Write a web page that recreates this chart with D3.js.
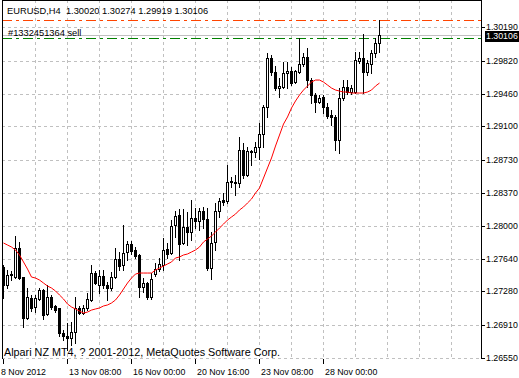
<!DOCTYPE html>
<html>
<head>
<meta charset="utf-8">
<script src="https://cdn.jsdelivr.net/npm/d3@7"></script>
<style>
body { margin: 0; background: #fff; }
svg { display: block; }
text { font-family: "Liberation Sans", Arial, sans-serif; fill: #000; }
</style>
</head>
<body>
<svg id="chart"></svg>
<script>
// EURUSD H4 bars, oldest first
var opens = [1.27549,1.27351,1.27461,1.27439,1.27759,1.27439,1.26987,1.27208,1.27109,1.27197,
1.27296,1.27031,1.27219,1.27120,1.27098,1.26822,1.26789,1.26767,1.26833,1.27098,
1.27042,1.27098,1.27186,1.27483,1.27351,1.27450,1.27351,1.27318,1.27439,1.27638,
1.27571,1.27715,1.27803,1.27737,1.27682,1.27329,1.27373,1.27219,1.27472,1.27527,
1.27571,1.27748,1.27704,1.28012,1.28122,1.27814,1.27990,1.27935,1.28089,1.28056,
1.28167,1.28078,1.27538,1.27825,1.28167,1.28288,1.28277,1.28486,1.28475,1.28475,
1.28839,1.28563,1.28828,1.28817,1.28872,1.29015,1.29313,1.29853,1.29698,1.29522,
1.29533,1.29687,1.29710,1.29588,1.29698,1.29787,1.29864,1.29610,1.29445,1.29368,
1.29423,1.29313,1.29225,1.29203,1.28949,1.29412,1.29533,1.29478,1.29478,1.29820,
1.29853,1.29698,1.29787,1.29908,1.30020];
var highs = [1.27571,1.27516,1.27505,1.27891,1.27825,1.27439,1.27318,1.27241,1.27241,1.27318,
1.27307,1.27351,1.27241,1.27131,1.27098,1.26855,1.26932,1.26943,1.27219,1.27120,
1.27131,1.27263,1.27571,1.27505,1.27516,1.27516,1.27384,1.27494,1.27759,1.27715,
1.28012,1.27836,1.27836,1.27770,1.27693,1.27428,1.27384,1.27483,1.27594,1.27649,
1.27869,1.27814,1.28067,1.28167,1.28189,1.28189,1.28156,1.28288,1.28200,1.28200,
1.28211,1.28200,1.27935,1.28255,1.28310,1.28365,1.28674,1.28541,1.28563,1.28982,
1.28916,1.28872,1.28839,1.28927,1.29136,1.29335,1.29908,1.29886,1.29765,1.29632,
1.29809,1.29809,1.29754,1.29721,1.30073,1.29908,1.29963,1.29632,1.29467,1.29445,
1.29445,1.29357,1.29280,1.29225,1.29522,1.29610,1.29610,1.29555,1.29919,1.29919,
1.30117,1.29831,1.29941,1.30073,1.30274];
var lows = [1.27208,1.27318,1.27406,1.27428,1.27417,1.26888,1.26976,1.27064,1.27053,1.27186,
1.26976,1.27020,1.27087,1.27053,1.26789,1.26745,1.26635,1.26690,1.26712,1.27031,
1.27031,1.27075,1.27175,1.27362,1.27263,1.27318,1.27186,1.27296,1.27428,1.27516,
1.27516,1.27627,1.27693,1.27649,1.27219,1.27274,1.27197,1.27197,1.27450,1.27505,
1.27516,1.27649,1.27693,1.27880,1.27627,1.27803,1.27792,1.27847,1.27979,1.27957,
1.27979,1.27516,1.27417,1.27737,1.28101,1.28233,1.28255,1.28431,1.28343,1.28431,
1.28530,1.28552,1.28674,1.28762,1.28740,1.28872,1.29203,1.29665,1.29500,1.29423,
1.29522,1.29522,1.29555,1.29577,1.29687,1.29765,1.29533,1.29357,1.29258,1.29357,
1.29247,1.29192,1.29114,1.28839,1.28806,1.29390,1.29456,1.29456,1.29467,1.29798,
1.29467,1.29665,1.29687,1.29864,1.29919];
var closes = [1.27351,1.27461,1.27472,1.27759,1.27428,1.26987,1.27219,1.27098,1.27208,1.27296,
1.27020,1.27219,1.27109,1.27075,1.26822,1.26789,1.26767,1.26833,1.27098,1.27042,
1.27098,1.27197,1.27483,1.27373,1.27450,1.27351,1.27318,1.27439,1.27638,1.27560,
1.27704,1.27803,1.27726,1.27671,1.27329,1.27373,1.27219,1.27417,1.27527,1.27583,
1.27737,1.27693,1.28001,1.28111,1.27803,1.27990,1.27935,1.28089,1.28056,1.28167,
1.28078,1.27538,1.27814,1.28167,1.28277,1.28266,1.28486,1.28497,1.28486,1.28839,
1.28563,1.28828,1.28817,1.28872,1.29015,1.29313,1.29853,1.29698,1.29522,1.29544,
1.29687,1.29710,1.29577,1.29710,1.29787,1.29864,1.29610,1.29445,1.29368,1.29412,
1.29313,1.29214,1.29203,1.28949,1.29412,1.29533,1.29478,1.29522,1.29831,1.29853,
1.29698,1.29798,1.29908,1.30018,1.30106];
// moving average drawn in red
var maValues = [1.27814,1.27792,1.27770,1.27737,1.27682,1.27605,1.27527,1.27439,1.27428,1.27406,
1.27373,1.27340,1.27318,1.27285,1.27241,1.27197,1.27142,1.27109,1.27087,1.27064,
1.27042,1.27053,1.27075,1.27087,1.27098,1.27120,1.27131,1.27153,1.27186,1.27241,
1.27307,1.27373,1.27428,1.27472,1.27483,1.27483,1.27483,1.27483,1.27516,1.27538,
1.27560,1.27583,1.27605,1.27649,1.27660,1.27682,1.27693,1.27715,1.27737,1.27770,
1.27825,1.27858,1.27891,1.27935,1.27979,1.28023,1.28067,1.28101,1.28133,1.28178,
1.28211,1.28255,1.28299,1.28365,1.28420,1.28530,1.28641,1.28751,1.28883,1.29004,
1.29125,1.29203,1.29302,1.29379,1.29445,1.29500,1.29544,1.29588,1.29610,1.29610,
1.29588,1.29555,1.29522,1.29500,1.29489,1.29478,1.29478,1.29467,1.29467,1.29467,
1.29467,1.29478,1.29500,1.29544,1.29577];

var priceTicks = [1.30190, 1.29820, 1.29460, 1.29100, 1.28730, 1.28370, 1.28000, 1.27640, 1.27280, 1.26910, 1.26550];
var timeTickBars = [0, 16, 32, 48, 64, 80];
var timeLabels = ["8 Nov 2012", "13 Nov 08:00", "16 Nov 00:00", "20 Nov 16:00", "23 Nov 08:00", "28 Nov 00:00"];
var gridBars = [8, 16, 24, 32, 40, 48, 56, 64, 72, 80, 88, 96, 104, 112];

var symbolText = "EURUSD,H4";
var bidPrice = 1.30106;
var orderPrice = 1.30070;
var stopPrice = 1.30272;
var orderLabel = "#1332451364 sell";
var copyright = "Alpari NZ MT4, ? 2001-2012, MetaQuotes Software Corp.";

var width = 519, height = 378;
var plot = {left: 2, right: 481, top: 0, bottom: 359};

var svg = d3.select("#chart").attr("width", width).attr("height", height);

var x = d3.scaleLinear().domain([0, 119]).range([3.5, 479.5]);
var y = d3.scaleLinear().domain([1.26550, 1.29820]).range([357.7, 61]);

function py(p) { return Math.round(y(p)) + 0.5; }

var clipId = "plotclip";
svg.append("clipPath").attr("id", clipId).append("rect")
  .attr("x", plot.left).attr("y", plot.top)
  .attr("width", plot.right - plot.left).attr("height", plot.bottom - plot.top);

var g = svg.append("g").attr("clip-path", "url(#" + clipId + ")").attr("shape-rendering", "crispEdges");

// grid
g.selectAll(".hgrid").data(priceTicks).enter().append("line")
  .attr("x1", plot.left).attr("x2", plot.right)
  .attr("y1", function(d) { return py(d); }).attr("y2", function(d) { return py(d); })
  .attr("stroke", "#c0c0c0").attr("stroke-dasharray", "3,3");

g.selectAll(".vgrid").data(gridBars).enter().append("line")
  .attr("x1", function(d) { return x(d); }).attr("x2", function(d) { return x(d); })
  .attr("y1", plot.top).attr("y2", plot.bottom)
  .attr("stroke", "#c0c0c0").attr("stroke-dasharray", "3,3");

// bid line, order and stop lines
g.append("line").attr("x1", plot.left).attr("x2", plot.right)
  .attr("y1", py(bidPrice)).attr("y2", py(bidPrice)).attr("stroke", "#c0c0c0");
g.append("line").attr("x1", plot.left).attr("x2", plot.right)
  .attr("y1", py(stopPrice)).attr("y2", py(stopPrice))
  .attr("stroke", "#ff4500").attr("stroke-dasharray", "10,4,3,4");
g.append("line").attr("x1", plot.left).attr("x2", plot.right)
  .attr("y1", py(orderPrice)).attr("y2", py(orderPrice))
  .attr("stroke", "#008000").attr("stroke-dasharray", "10,4,3,4");

// candles
var bars = d3.range(opens.length);
g.selectAll(".wick").data(bars).enter().append("line")
  .attr("x1", function(i) { return x(i); }).attr("x2", function(i) { return x(i); })
  .attr("y1", function(i) { return Math.round(y(highs[i])); })
  .attr("y2", function(i) { return Math.round(y(lows[i])) + 1; })
  .attr("stroke", "#000");

g.selectAll(".body").data(bars).enter().append("path")
  .attr("d", function(i) {
    var t = py(Math.max(opens[i], closes[i]));
    var b = py(Math.min(opens[i], closes[i]));
    var cx = x(i);
    return "M" + (cx - 1) + "," + t + "H" + (cx + 1) + "V" + b + "H" + (cx - 1) + "Z";
  })
  .attr("fill", function(i) { return closes[i] >= opens[i] ? "#fff" : "#000"; })
  .attr("stroke", "#000");

// moving average
var maLine = d3.line().x(function(d, i) { return x(i); }).y(function(d) { return y(d); });
svg.append("path").datum(maValues).attr("clip-path", "url(#" + clipId + ")")
  .attr("d", maLine).attr("fill", "none").attr("stroke", "#ff0000").attr("stroke-width", 1);

// frame: left, top and right edges
svg.append("path")
  .attr("d", "M" + (plot.left + 0.5) + "," + plot.bottom + "V" + (plot.top + 0.5) + "H" + (plot.right + 0.5) + "V" + plot.bottom)
  .attr("fill", "none").attr("stroke", "#000").attr("shape-rendering", "crispEdges");

// price axis
var axisG = svg.append("g").attr("shape-rendering", "crispEdges");
axisG.selectAll(".ptick").data(priceTicks).enter().append("line")
  .attr("x1", plot.right + 0.5).attr("x2", plot.right + 4)
  .attr("y1", function(d) { return py(d); }).attr("y2", function(d) { return py(d); })
  .attr("stroke", "#000");
svg.selectAll(".plabel").data(priceTicks).enter().append("text")
  .attr("x", 486).attr("y", function(d) { return y(d) + 3; })
  .style("font-size", "8.8px")
  .text(function(d) { return d.toFixed(5); });

// bid box
svg.append("rect").attr("x", 485).attr("y", Math.round(y(bidPrice)) - 4)
  .attr("width", 34).attr("height", 11).attr("fill", "#000");
svg.append("text").attr("x", 486).attr("y", y(bidPrice) + 4.4)
  .style("font-size", "8.8px").style("fill", "#fff").text(bidPrice.toFixed(5));

// time axis
axisG.selectAll(".ttick").data(timeTickBars).enter().append("line")
  .attr("x1", function(d) { return Math.round(x(d)) - 0.5; }).attr("x2", function(d) { return Math.round(x(d)) - 0.5; })
  .attr("y1", plot.bottom).attr("y2", plot.bottom + 5)
  .attr("stroke", "#000");
svg.selectAll(".tlabel").data(timeTickBars).enter().append("text")
  .attr("x", function(d, i) { return i == 0 ? 1 : Math.round(x(d)) + 1; })
  .attr("y", 375)
  .style("font-size", "8.8px")
  .text(function(d, i) { return timeLabels[i]; });

// texts in the chart
var last = opens.length - 1;
svg.append("text").attr("x", 7).attr("y", 14).style("font-size", "9.3px")
  .style("white-space", "pre")
  .text(symbolText + "  " + opens[last].toFixed(5) + " " + highs[last].toFixed(5) + " " + lows[last].toFixed(5) + " " + closes[last].toFixed(5));
svg.append("text").attr("x", 8).attr("y", 36).style("font-size", "9.3px").text(orderLabel);
svg.append("text").attr("x", 4).attr("y", 356).style("font-size", "10.8px").text(copyright);
</script>
</body>
</html>
